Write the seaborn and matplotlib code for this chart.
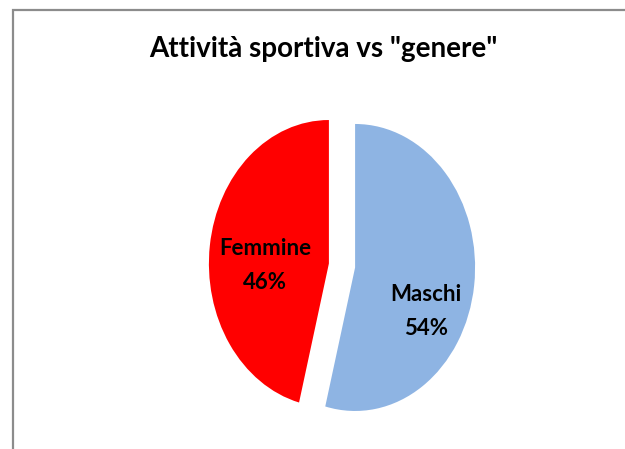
import matplotlib.pyplot as plt
import seaborn as sns
from matplotlib.patches import Rectangle

# data
categories = ["Maschi", "Femmine"]
shares = [54, 46]
colors = ["#8EB4E3", "#FF0000"]
title = 'Attività sportiva vs "genere"'

sns.set_style("white")
plt.rcParams["font.family"] = ["Lato", "DejaVu Sans"]

W, H = 625, 449
fig = plt.figure(figsize=(W / 100, H / 100), dpi=100)

# outer chart frame (top and left edges visible)
fig.patches.append(Rectangle((12.5 / W, -0.05), 1.2, (H - 9.5) / H + 0.05,
                             transform=fig.transFigure, fill=False,
                             edgecolor="#8C8C8C", lw=1.6))

# axes placed so the pie is an ellipse 240 px wide, 287 px tall
cx, cy = 342, H - 265.5
rx, ry = 120, 143.5
xl, yl = 1.5, 1.2
ax = fig.add_axes([(cx - xl * rx) / W, (cy - yl * ry) / H,
                   2 * xl * rx / W, 2 * yl * ry / H])

wedges, _ = ax.pie(shares, colors=colors, startangle=90, counterclock=False,
                   explode=[0.11, 0.11], wedgeprops=dict(linewidth=0))
ax.set_aspect("auto")
ax.set_xlim(-xl, xl)
ax.set_ylim(-yl, yl)
ax.axis("off")

# data labels, positioned as in the original
label_pos = {"Femmine": (-0.64, 0.0), "Maschi": (0.70, -0.32)}
for cat, val in zip(categories, shares):
    x, y = label_pos[cat]
    ax.text(x, y, f"{cat}\n{val}%", ha="center", va="center",
            fontsize=16, fontweight="bold", color="#000000", linespacing=1.75)

fig.text(323 / W, 1 - 57 / H, title, ha="center", va="baseline",
         fontsize=20, fontweight="bold", color="#000000")

fig.savefig("out.png", dpi=100)
